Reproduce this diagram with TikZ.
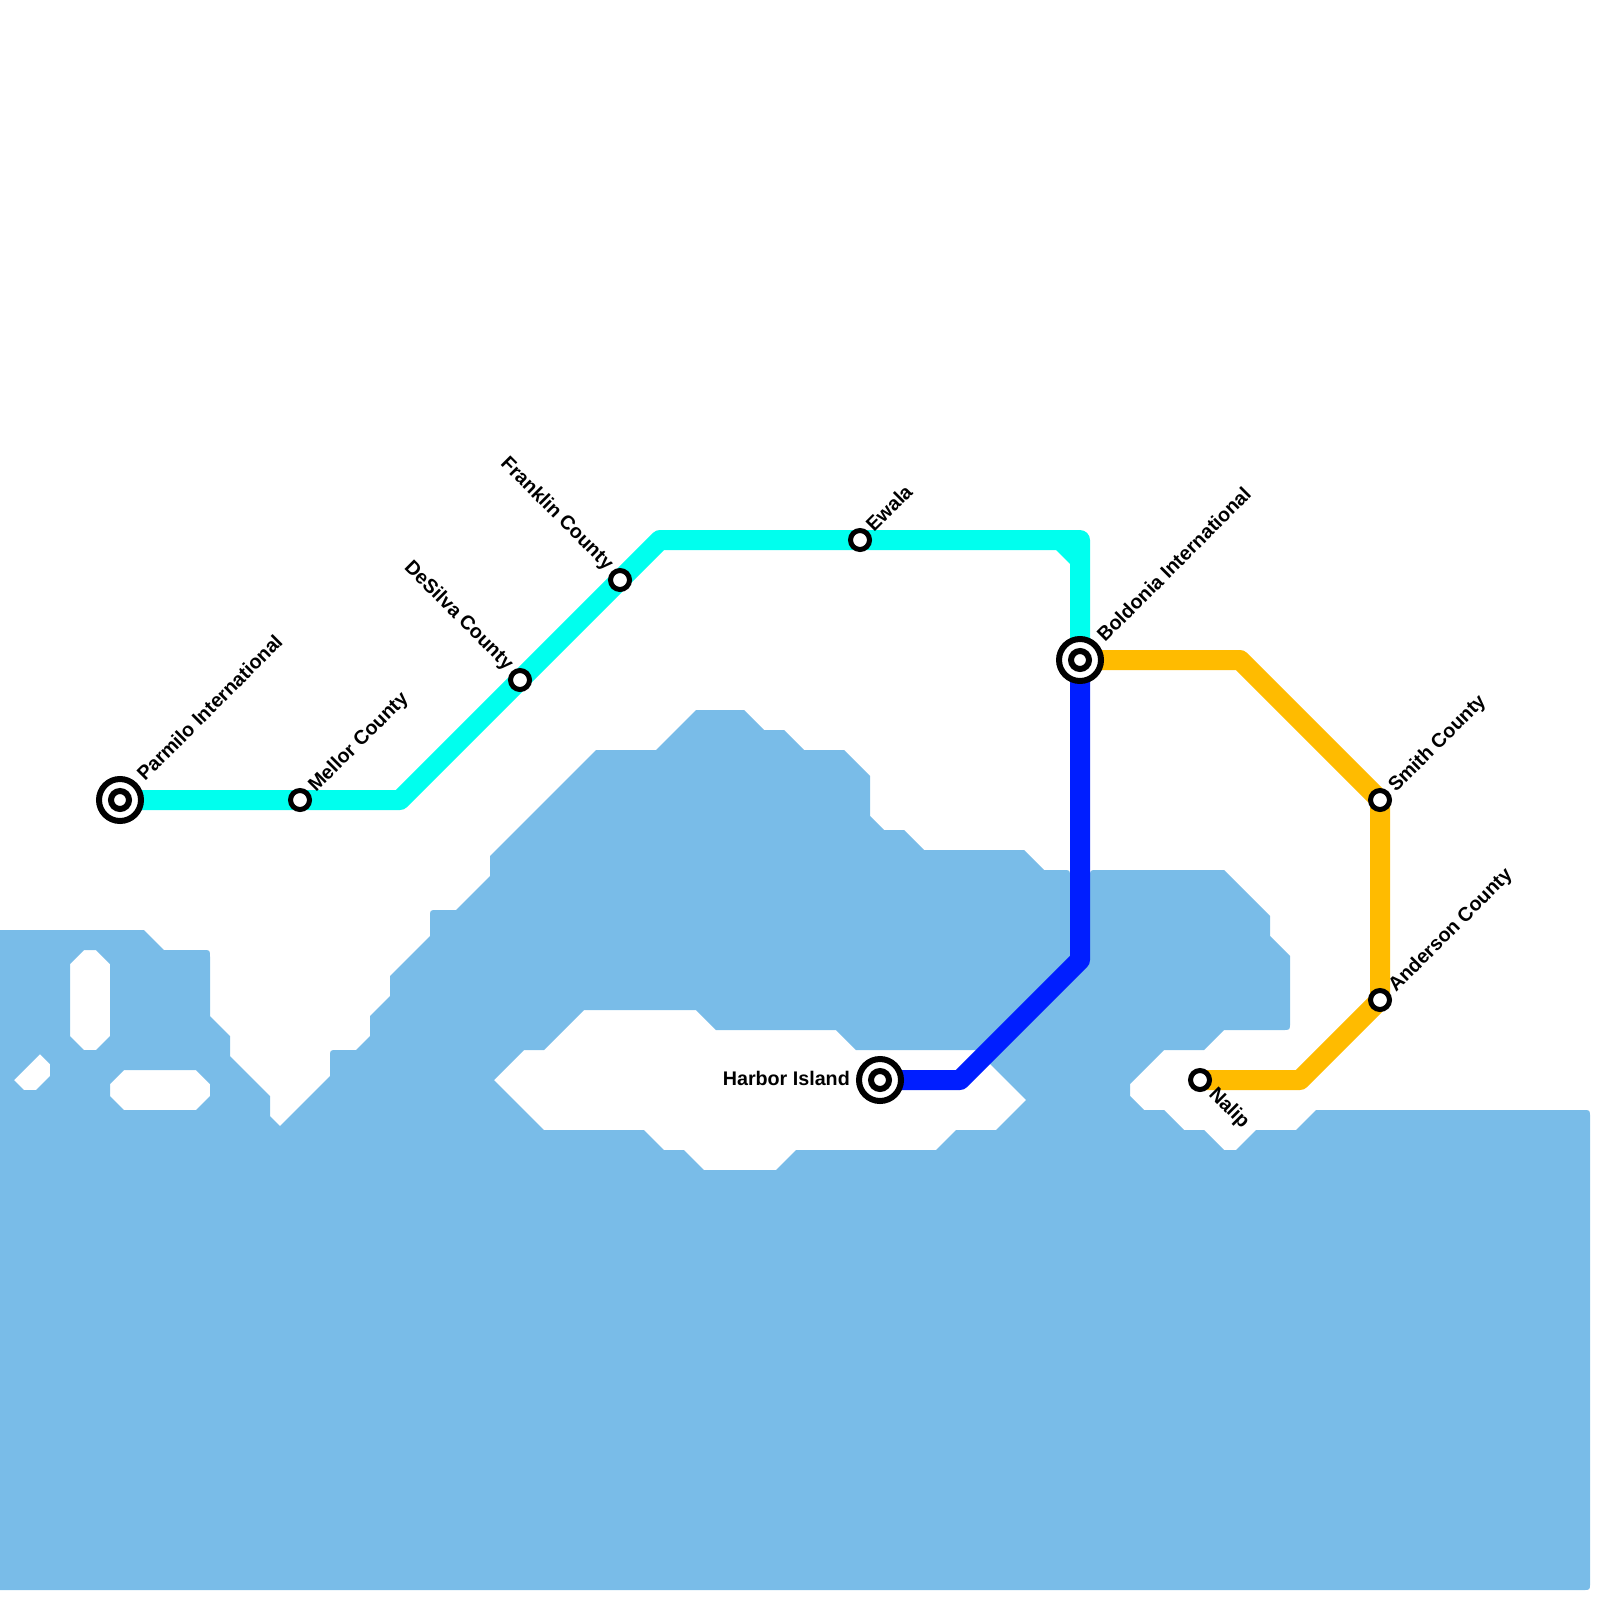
\documentclass[tikz,border=0pt]{standalone}
\usepackage{fontspec}
\setmainfont{Liberation Sans}
\usetikzlibrary{backgrounds}
\definecolor{WaterCol}{HTML}{79BCE8}
\definecolor{CyanLine}{HTML}{00FFEE}
\definecolor{BlueLine}{HTML}{001EFF}
\definecolor{GoldLine}{HTML}{FFBB00}
\tikzset{
  metro/.style={line width=20pt, line join=round},
  stopdot/.style={circle, draw=black, fill=white, line width=5pt, minimum size=19pt, inner sep=0pt},
  hubdot/.style={circle, draw=black, fill=white, line width=6pt, minimum size=42pt, inner sep=0pt,
    path picture={\draw[black, line width=6pt] (path picture bounding box.center) circle (9pt);}},
  namelabel/.style={font=\fontsize{19.7}{24}\selectfont\bfseries, text=black, inner sep=0pt}
}

\begin{document}
\begin{tikzpicture}[x=1pt, y=-1pt]
  \useasboundingbox (0,0) rectangle (1600,1600);
  % Water, with the lakes cut out
  \begin{scope}[on background layer]
    \fill[WaterCol, even odd rule]
      (0,930) -- (144,930) -- (164,950) -- (203,950) .. controls (210,950) .. (210,957)
      -- (210,1016) -- (230,1036) -- (230,1056) -- (270,1096) -- (270,1116) -- (280,1126)
      -- (330,1076) -- (330,1057) .. controls (330,1050) .. (337,1050)
      -- (356,1050) -- (370,1036) -- (370,1016) -- (390,996) -- (390,976) -- (430,936)
      -- (430,917) .. controls (430,910) .. (437,910)
      -- (456,910) -- (490,876) -- (490,856) -- (596,750) -- (656,750) -- (696,710)
      -- (744,710) -- (764,730) -- (784,730) -- (804,750) -- (844,750) -- (870,776)
      -- (870,816) -- (884,830) -- (904,830) -- (924,850) -- (1024,850) -- (1044,870)
      -- (1063,870) .. controls (1070,870) .. (1070,877)
      -- (1070,960) -- (1090,960)
      -- (1090,877) .. controls (1090,870) .. (1097,870)
      -- (1224,870) -- (1270,916) -- (1270,936) -- (1290,956)
      -- (1290,1023) .. controls (1290,1030) .. (1283,1030)
      -- (1224,1030) -- (1204,1050) -- (1164,1050) -- (1130,1084) -- (1130,1096)
      -- (1144,1110) -- (1164,1110) -- (1184,1130) -- (1204,1130) -- (1224,1150)
      -- (1236,1150) -- (1256,1130) -- (1296,1130) -- (1316,1110)
      -- (1583,1110) .. controls (1590,1110) .. (1590,1117)
      -- (1590,1583) .. controls (1590,1590) .. (1583,1590)
      -- (0,1590) -- cycle
      % Harbor lake
      (494,1080) -- (524,1050) -- (544,1050) -- (584,1010) -- (696,1010) -- (716,1030)
      -- (836,1030) -- (856,1050) -- (976,1050) -- (1026,1100) -- (996,1130) -- (956,1130)
      -- (936,1150) -- (796,1150) -- (776,1170) -- (704,1170) -- (684,1150) -- (664,1150)
      -- (644,1130) -- (544,1130) -- cycle
      % Small lakes
      (70,964) -- (84,950) -- (96,950) -- (110,964) -- (110,1036) -- (96,1050) -- (84,1050)
      -- (70,1036) -- cycle
      (110,1084) -- (124,1070) -- (196,1070) -- (210,1084) -- (210,1096) -- (196,1110)
      -- (124,1110) -- (110,1096) -- cycle
      (14,1080) -- (40,1054) -- (50,1064) -- (50,1076) -- (36,1090) -- (24,1090) -- cycle;
  \end{scope}
  % Stations
  \foreach \nm/\x/\y in {mellor/300/800, desilva/520/680, franklin/620/580, ewala/860/540,
      smith/1380/800, anderson/1380/1000, nalip/1200/1080}{
    \node[stopdot] (\nm) at (\x,\y) {};
  }
  \foreach \nm/\x/\y in {parmilo/120/800, boldonia/1080/660, harbor/880/1080}{
    \node[hubdot] (\nm) at (\x,\y) {};
  }
  % Bends
  \coordinate (cyanA) at (400,800);
  \coordinate (cyanB) at (660,540);
  \coordinate (cyanC) at (1080,540);
  \coordinate (blueA) at (1080,960);
  \coordinate (blueB) at (960,1080);
  \coordinate (goldA) at (1240,660);
  \coordinate (goldB) at (1300,1080);
  % Lines
  \begin{scope}[on background layer]
    \draw[metro, CyanLine] (parmilo.center) -- (mellor.center) -- (cyanA) -- (desilva.center)
      -- (franklin.center) -- (cyanB) -- (ewala.center) -- (cyanC) -- (boldonia.center);
    \fill[CyanLine] (1056,550) -- (1070,550) -- (1070,564) -- cycle;
    \draw[metro, BlueLine] (boldonia.center) -- (blueA) -- (blueB) -- (harbor.center);
    \draw[metro, GoldLine] (boldonia.center) -- (goldA) -- (smith.center) -- (anderson.center)
      -- (goldB) -- (nalip.center);
  \end{scope}
  % Labels
  \node[namelabel, rotate=45, anchor=base west] (parmiloName) at (145,782) {Parmilo International};
  \node[namelabel, rotate=45, anchor=base west] (mellorName) at (316,793) {Mellor County};
  \node[namelabel, rotate=-45, anchor=base east] (desilvaName) at (506,671) {DeSilva County};
  \node[namelabel, rotate=-45, anchor=base east] (franklinName) at (606,571) {Franklin County};
  \node[namelabel, rotate=45, anchor=base west] (ewalaName) at (874,533) {Ewala};
  \node[namelabel, rotate=45, anchor=base west] (boldoniaName) at (1105,643) {Boldonia International};
  \node[namelabel, rotate=45, anchor=base west] (smithName) at (1396,793) {Smith County};
  \node[namelabel, rotate=45, anchor=base west] (andersonName) at (1396,993) {Anderson County};
  \node[namelabel, rotate=-45, anchor=base west] (nalipName) at (1208,1095) {Nalip};
  \node[namelabel, anchor=base east] (harborName) at (850,1085) {Harbor Island};
\end{tikzpicture}
\end{document}
